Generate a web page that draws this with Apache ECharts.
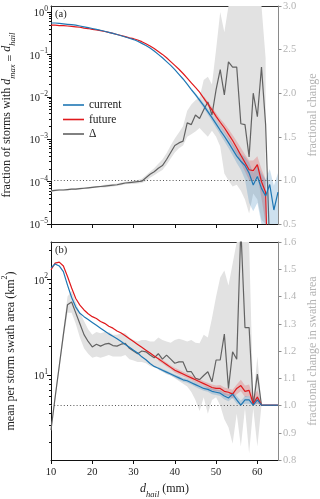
<!DOCTYPE html>
<html>
<head>
<meta charset="utf-8">
<script src="https://cdn.jsdelivr.net/npm/echarts@6/dist/echarts.min.js"></script>
<style>
  html, body { margin: 0; padding: 0; background: #fff; }
  #chart { width: 320px; height: 499px; }
</style>
</head>
<body>
<div id="chart"></div>
<script>
  // hail diameter grid (mm)
  const dHail = [10, 11, 12, 13, 14, 15, 16, 17, 18, 19, 20, 21, 22, 23, 24, 25, 26, 27, 28, 29,
    30, 31, 32, 33, 34, 35, 36, 37, 38, 39, 40, 41, 42, 43, 44, 45, 46, 47, 48, 49,
    50, 51, 52, 53, 54, 55, 56, 57, 58, 59, 60, 61, 62, 63, 64, 65];

  // (a) fraction of storms, stored as log10 exponents
  const fracCurrentExp = [-0.26, -0.26, -0.27, -0.28, -0.29, -0.30, -0.31, -0.33, -0.35, -0.37,
    -0.39, -0.41, -0.43, -0.455, -0.48, -0.505, -0.53, -0.56, -0.59, -0.62,
    -0.65, -0.69, -0.74, -0.79, -0.85, -0.92, -1.00, -1.08, -1.17, -1.26,
    -1.36, -1.47, -1.58, -1.70, -1.83, -1.95, -2.08, -2.21, -2.35, -2.49,
    -2.64, -2.79, -2.93, -3.08, -3.24, -3.40, -3.52, -3.62, -3.80, -4.08,
    -3.88, -4.16, -4.34, -4.07, -4.67, -4.25];
  const fracFutureExp = [-0.31, -0.31, -0.32, -0.32, -0.33, -0.34, -0.35, -0.36, -0.38, -0.39,
    -0.41, -0.42, -0.44, -0.46, -0.48, -0.505, -0.53, -0.555, -0.58, -0.61,
    -0.63, -0.66, -0.70, -0.75, -0.80, -0.86, -0.93, -1.00, -1.08, -1.17,
    -1.26, -1.35, -1.45, -1.56, -1.67, -1.78, -1.89, -2.03, -2.17, -2.31,
    -2.46, -2.60, -2.73, -2.88, -3.03, -3.20, -3.38, -3.55, -3.72, -3.74,
    -3.60, -4.00, -4.25, -8, null, null];
  const fracDelta = [0.88, 0.885, 0.89, 0.89, 0.895, 0.90, 0.90, 0.905, 0.91, 0.915,
    0.92, 0.925, 0.93, 0.935, 0.94, 0.945, 0.95, 0.96, 0.97, 0.975,
    0.98, 0.985, 0.99, 1.03, 1.07, 1.10, 1.14, 1.17, 1.24, 1.32,
    1.40, 1.43, 1.45, 1.66, 1.64, 1.75, 1.71, 1.81, 1.90, 1.75,
    2.04, 2.27, 1.98, 2.36, 2.30, 2.30, 1.65, 1.64, 1.27, 2.00,
    1.73, 2.30, 1.64, 0.20, null, null];

  // (a) uncertainty bands
  const fracCurrentBand = { d0: 44,
    hi: [-1.80, -1.91, -2.03, -2.15, -2.28, -2.41, -2.55, -2.69, -2.82, -2.96, -3.10,
      -3.25, -3.35, -3.42, -3.55, -3.80, -3.60, -3.80, -3.95, -3.70, -4.10, -3.80],
    lo: [-1.86, -1.99, -2.13, -2.27, -2.42, -2.57, -2.73, -2.89, -3.05, -3.21, -3.38,
      -3.56, -3.72, -3.95, -4.50, -4.70, -4.50, -8, -8, -8, -8, -8] };
  const fracFutureBand = { d0: 47,
    hi: [-1.98, -2.11, -2.24, -2.38, -2.52, -2.63, -2.76, -2.90, -3.05, -3.20, -3.36,
      -3.50, -3.50, -3.40, -3.70, -3.95],
    lo: [-2.08, -2.23, -2.38, -2.54, -2.70, -2.84, -3.00, -3.17, -3.36, -3.56, -3.76,
      -3.96, -4.00, -3.85, -4.40, -8] };
  const fracDeltaBand = { d0: 10,
    lo: [0.87, 0.875, 0.88, 0.88, 0.885, 0.89, 0.89, 0.895, 0.90, 0.905,
      0.91, 0.915, 0.92, 0.92, 0.925, 0.93, 0.935, 0.945, 0.955, 0.96,
      0.96, 0.965, 0.97, 0.99, 1.03, 1.06, 1.09, 1.12, 1.18, 1.25,
      1.32, 1.37, 1.40, 1.50, 1.53, 1.56, 1.60, 1.55, 1.50, 1.57,
      1.50, 1.39, 1.08, 1.00, 0.93, 0.95, 0.88, 0.78, 0.62, 0.85,
      0.78, 0.55, 0.20],
    hi: [0.89, 0.895, 0.90, 0.90, 0.905, 0.91, 0.91, 0.915, 0.92, 0.925,
      0.93, 0.935, 0.94, 0.95, 0.955, 0.96, 0.965, 0.975, 0.985, 0.99,
      1.00, 1.005, 1.02, 1.06, 1.10, 1.14, 1.19, 1.24, 1.31, 1.40,
      1.48, 1.55, 1.62, 1.80, 1.87, 1.92, 1.95, 2.15, 2.19, 2.10,
      2.50, 2.93, 2.70, 3.50, 3.50, 3.50, 3.50, 3.50, 3.50, 3.50,
      3.50, 3.50, 2.40] };

  // (b) mean swath area (km2), log10 exponents
  const areaCurrentExp = [2.12, 2.16, 2.14, 2.08, 1.94, 1.81, 1.71, 1.645, 1.61, 1.58,
    1.55, 1.52, 1.49, 1.46, 1.43, 1.405, 1.38, 1.35, 1.32, 1.29,
    1.26, 1.23, 1.19, 1.16, 1.12, 1.09, 1.07, 1.05, 1.03, 1.01,
    0.99, 0.97, 0.95, 0.94, 0.92, 0.90, 0.88, 0.86, 0.85, 0.83,
    0.82, 0.81, 0.78, 0.76, 0.80, 0.74, 0.685, 0.74, 0.74, 0.685,
    0.74, 0.685, 0.685, 0.685, 0.685, 0.685];
  const areaFutureExp = [2.10, 2.17, 2.18, 2.14, 2.03, 1.91, 1.80, 1.73, 1.68, 1.64,
    1.61, 1.59, 1.56, 1.54, 1.51, 1.49, 1.46, 1.44, 1.41, 1.38,
    1.35, 1.32, 1.29, 1.26, 1.23, 1.20, 1.17, 1.14, 1.11, 1.08,
    1.05, 1.03, 1.01, 0.99, 0.97, 0.95, 0.93, 0.91, 0.89, 0.87,
    0.86, 0.86, 0.83, 0.82, 0.80, 0.86, 0.89, 0.83, 0.84, 0.70,
    0.77, 0.685, 0.685, 0.685, 0.685, 0.685];
  const areaDelta = [0.91, 1.03, 1.145, 1.26, 1.37, 1.38, 1.34, 1.30, 1.26, 1.235,
    1.215, 1.225, 1.218, 1.225, 1.228, 1.22, 1.218, 1.225, 1.228, 1.21,
    1.20, 1.19, 1.20, 1.197, 1.185, 1.175, 1.19, 1.17, 1.185, 1.17,
    1.155, 1.16, 1.16, 1.124, 1.124, 1.10, 1.095, 1.11, 1.124, 1.087,
    1.167, 1.167, 1.262, 1.063, 1.197, 1.17, 1.65, 1.286, 1.286, 1.0,
    1.115, 1.0, 1.0, 1.0, 1.0, 1.0];

  // (b) uncertainty bands
  const areaCurrentBand = { d0: 36,
    hi: [1.085, 1.065, 1.045, 1.025, 1.005, 0.99, 0.97, 0.96, 0.94, 0.925, 0.905, 0.885, 0.875,
      0.86, 0.85, 0.84, 0.815, 0.80, 0.83, 0.78, 0.73, 0.78, 0.78, 0.73, 0.78, 0.70],
    lo: [1.055, 1.035, 1.015, 0.995, 0.975, 0.95, 0.93, 0.92, 0.90, 0.875, 0.855, 0.835, 0.825,
      0.80, 0.79, 0.78, 0.745, 0.725, 0.76, 0.70, 0.685, 0.70, 0.70, 0.685, 0.70, 0.685] };
  const areaFutureBand = { d0: 36,
    hi: [1.19, 1.16, 1.13, 1.10, 1.075, 1.055, 1.035, 1.015, 0.995, 0.975, 0.955, 0.935, 0.92,
      0.90, 0.89, 0.895, 0.87, 0.86, 0.845, 0.90, 0.95, 0.89, 0.90, 0.77, 0.84, 0.70],
    lo: [1.15, 1.12, 1.09, 1.06, 1.025, 1.005, 0.985, 0.965, 0.945, 0.925, 0.905, 0.885, 0.86,
      0.84, 0.83, 0.825, 0.79, 0.78, 0.755, 0.80, 0.83, 0.77, 0.78, 0.685, 0.70, 0.685] };
  const areaDeltaBand = { d0: 10,
    lo: [0.905, 1.02, 1.13, 1.24, 1.34, 1.34, 1.30, 1.25, 1.21, 1.19,
      1.175, 1.18, 1.175, 1.18, 1.185, 1.18, 1.18, 1.18, 1.185, 1.17,
      1.165, 1.16, 1.16, 1.155, 1.145, 1.14, 1.135, 1.125, 1.115, 1.11,
      1.10, 1.09, 1.08, 1.07, 1.05, 1.02, 0.98, 1.03, 0.97, 1.02,
      1.03, 1.00, 0.95, 0.92, 0.86, 0.97, 0.85, 0.99, 0.825, 0.99,
      0.85, 1.0],
    hi: [0.915, 1.04, 1.16, 1.28, 1.40, 1.42, 1.38, 1.34, 1.31, 1.28,
      1.26, 1.27, 1.265, 1.27, 1.27, 1.26, 1.26, 1.265, 1.265, 1.25,
      1.24, 1.235, 1.24, 1.24, 1.235, 1.235, 1.25, 1.24, 1.235, 1.23,
      1.24, 1.245, 1.24, 1.235, 1.24, 1.23, 1.228, 1.26, 1.25, 1.32,
      1.40, 1.47, 1.495, 1.44, 1.52, 1.70, 1.70, 1.70, 1.70, 1.02,
      1.18, 1.0] };

  // tick values
  const xTicks = [10, 20, 30, 40, 50, 60];
  const fracMajor = [1e-5, 1e-4, 1e-3, 1e-2, 1e-1, 1];
  const areaMajor = [10, 100];

  const FONT = 'Liberation Serif';
  const C_CUR = '#1f77b4';
  const C_FUT = '#e0191c';
  const C_DEL = '#626262';
  const C_RIGHT = '#b4b4b4';

  const pow10 = arr => arr.map(v => v == null ? null : Math.pow(10, v));
  const pairs = (ys) => dHail.map((d, i) => [d, ys[i]]);

  function minorTicks(lo, hi) {
    let out = [];
    for (let e = lo; e <= hi; e++) {
      for (let m = 2; m <= 9; m++) out.push(m * Math.pow(10, e));
    }
    return out;
  }

  function bandSeries(band, xIdx, yIdx, color, isLog, z) {
    return {
      type: 'custom',
      xAxisIndex: xIdx,
      yAxisIndex: yIdx,
      silent: true,
      z: z,
      data: [[band.d0, isLog ? Math.pow(10, band.hi[0]) : band.hi[0]]],
      renderItem: function (params, api) {
        const cs = params.coordSys;
        const clamp = y => Math.max(cs.y, Math.min(cs.y + cs.height, y));
        let top = [], bottom = [];
        band.hi.forEach((h, i) => {
          const d = band.d0 + i;
          const hv = isLog ? Math.pow(10, h) : h;
          const lv = isLog ? Math.pow(10, band.lo[i]) : band.lo[i];
          const p1 = api.coord([d, hv]);
          const p0 = api.coord([d, lv]);
          top.push([p1[0], clamp(p1[1])]);
          bottom.unshift([p0[0], clamp(p0[1])]);
        });
        return {
          type: 'polygon',
          shape: { points: top.concat(bottom) },
          style: { fill: color }
        };
      }
    };
  }

  function lineSeries(name, ys, xIdx, yIdx, color, z) {
    return {
      name: name,
      type: 'line',
      xAxisIndex: xIdx,
      yAxisIndex: yIdx,
      data: pairs(ys),
      symbol: 'none',
      connectNulls: false,
      z: z,
      lineStyle: { color: color, width: 1.2 },
      itemStyle: { color: color }
    };
  }

  const dotted = {
    silent: true,
    symbol: 'none',
    label: { show: false },
    lineStyle: { color: '#555', width: 1, type: [1, 2.2] },
    data: [{ yAxis: 1 }]
  };

  const logLabel = {
    margin: 3,
    fontFamily: FONT,
    color: '#222',
    formatter: function (v) {
      const e = Math.round(Math.log10(v));
      return '{b|10}{s|' + (e < 0 ? '\u2212' + (-e) : e) + '}';
    },
    rich: {
      b: { fontFamily: FONT, fontSize: 10.5, color: '#222', lineHeight: 14, verticalAlign: 'bottom' },
      s: { fontFamily: FONT, fontSize: 7.5, color: '#222', lineHeight: 14, verticalAlign: 'top' }
    }
  };

  const nameRich = {
    n: { fontFamily: FONT, fontSize: 12, color: '#222', lineHeight: 16, verticalAlign: 'top' },
    i: { fontFamily: FONT, fontSize: 12, fontStyle: 'italic', color: '#222', lineHeight: 16, verticalAlign: 'top' },
    s: { fontFamily: FONT, fontSize: 8.5, fontStyle: 'italic', color: '#222', lineHeight: 16, verticalAlign: 'bottom' },
    p: { fontFamily: FONT, fontSize: 8, color: '#222', lineHeight: 16, verticalAlign: 'top' },
    m: { fontFamily: FONT, fontSize: 12, color: '#222', lineHeight: 16, verticalAlign: 'bottom' }
  };

  function xAxisOf(grid, withLabels) {
    return {
      type: 'value', gridIndex: grid, min: 10, max: 65,
      axisLine: { onZero: false, lineStyle: { color: '#111', width: 1 } },
      axisTick: { length: 4, customValues: xTicks, lineStyle: { color: '#111' } },
      axisLabel: withLabels ? {
        customValues: xTicks, margin: 7, fontFamily: FONT, fontSize: 10.5, color: '#222'
      } : { show: false },
      splitLine: { show: false },
      name: withLabels ? '{i|d}{s|hail}{n| (mm)}' : '',
      nameLocation: 'middle',
      nameGap: 23,
      nameTextStyle: { rich: nameRich }
    };
  }

  function topSpine(grid) {
    return {
      type: 'value', gridIndex: grid, position: 'top', min: 10, max: 65,
      axisLine: { onZero: false, lineStyle: { color: '#333', width: 1 } },
      axisTick: { show: false }, axisLabel: { show: false }, splitLine: { show: false }
    };
  }

  function rightAxis(grid, min, max, step, name, gap) {
    return {
      type: 'value', gridIndex: grid, position: 'right', min: min, max: max, interval: step,
      axisLine: { show: true, onZero: false, lineStyle: { color: '#8a8a8a', width: 1 } },
      axisTick: { show: true, length: 3.5, lineStyle: { color: '#8a8a8a' } },
      axisLabel: { margin: 5, fontFamily: FONT, fontSize: 10.5, color: C_RIGHT,
        formatter: v => v.toFixed(1) },
      splitLine: { show: false },
      name: name, nameLocation: 'middle', nameRotate: 90, nameGap: gap,
      nameTextStyle: { fontFamily: FONT, fontSize: 12, color: C_RIGHT }
    };
  }

  let option = {
    animation: false,
    backgroundColor: '#fff',
    grid: [
      { left: 51, top: 6, width: 227, height: 218, containLabel: false, outerBoundsMode: 'none' },
      { left: 51, top: 242, width: 227, height: 218, containLabel: false, outerBoundsMode: 'none' }
    ],
    legend: {
      orient: 'vertical', left: 58, top: 94,
      itemWidth: 21, itemHeight: 1.6, itemGap: 2.5, icon: 'rect',
      data: ['current', 'future', 'Δ'],
      textStyle: { fontFamily: FONT, fontSize: 11.5, color: '#222', lineHeight: 12 }
    },
    graphic: [
      { type: 'text', left: 55, top: 9, style: { text: '(a)', fontFamily: FONT, fontSize: 10.5, fill: '#222' } },
      { type: 'text', left: 55, top: 245, style: { text: '(b)', fontFamily: FONT, fontSize: 10.5, fill: '#222' } }
    ],
    xAxis: [xAxisOf(0, false), xAxisOf(1, true), topSpine(0), topSpine(1)],
    yAxis: [
      {
        type: 'log', gridIndex: 0, position: 'left', min: 1e-5, max: 1.385, logBase: 10,
        axisLine: { show: true, onZero: false, lineStyle: { color: '#111' } },
        axisTick: { show: true, length: 4, customValues: fracMajor, lineStyle: { color: '#111' } },
        axisLabel: Object.assign({ customValues: fracMajor }, logLabel),
        splitLine: { show: false },
        name: '{n|fraction of storms with }{i|d}{s|max}{m| = }{i|d}{s|hail}',
        nameLocation: 'middle', nameRotate: 90, nameGap: 34,
        nameTextStyle: { rich: nameRich }
      },
      rightAxis(0, 0.5, 3.0, 0.5, 'fractional change', 27),
      {
        type: 'log', gridIndex: 0, position: 'left', min: 1e-5, max: 1.385, logBase: 10,
        axisLine: { show: false },
        axisTick: { show: true, length: 2, customValues: minorTicks(-5, -1), lineStyle: { color: '#111' } },
        axisLabel: { show: false }, splitLine: { show: false }
      },
      {
        type: 'log', gridIndex: 1, position: 'left', min: 1.294, max: 245.6, logBase: 10,
        axisLine: { show: true, onZero: false, lineStyle: { color: '#111' } },
        axisTick: { show: true, length: 4, customValues: areaMajor, lineStyle: { color: '#111' } },
        axisLabel: Object.assign({ customValues: areaMajor }, logLabel),
        splitLine: { show: false },
        name: '{m|mean per storm swath area (km}{p|2}{m|)}',
        nameLocation: 'middle', nameRotate: 90, nameGap: 34,
        nameTextStyle: { rich: nameRich }
      },
      rightAxis(1, 0.8, 1.6, 0.1, 'fractional change in swath area', 27),
      {
        type: 'log', gridIndex: 1, position: 'left', min: 1.294, max: 245.6, logBase: 10,
        axisLine: { show: false },
        axisTick: { show: true, length: 2, customValues: minorTicks(0, 2).filter(v => v < 245), lineStyle: { color: '#111' } },
        axisLabel: { show: false }, splitLine: { show: false }
      }
    ],
    series: [
      bandSeries(fracDeltaBand, 0, 1, '#e2e2e2', false, 1),
      Object.assign(lineSeries('Δ', fracDelta, 0, 1, C_DEL, 2), { markLine: dotted }),
      bandSeries(fracFutureBand, 0, 0, 'rgba(224,25,28,0.2)', true, 3),
      bandSeries(fracCurrentBand, 0, 0, 'rgba(31,119,180,0.22)', true, 3),
      lineSeries('future', pow10(fracFutureExp), 0, 0, C_FUT, 4),
      lineSeries('current', pow10(fracCurrentExp), 0, 0, C_CUR, 5),

      bandSeries(areaDeltaBand, 1, 4, '#e2e2e2', false, 1),
      Object.assign(lineSeries('Δ', areaDelta, 1, 4, C_DEL, 2), { markLine: dotted }),
      bandSeries(areaFutureBand, 1, 3, 'rgba(224,25,28,0.2)', true, 3),
      bandSeries(areaCurrentBand, 1, 3, 'rgba(31,119,180,0.22)', true, 3),
      lineSeries('future', pow10(areaFutureExp), 1, 3, C_FUT, 4),
      lineSeries('current', pow10(areaCurrentExp), 1, 3, C_CUR, 5)
    ]
  };

  const chart = echarts.init(document.getElementById('chart'), null, { renderer: 'canvas' });
  chart.setOption(option);
</script>
</body>
</html>
